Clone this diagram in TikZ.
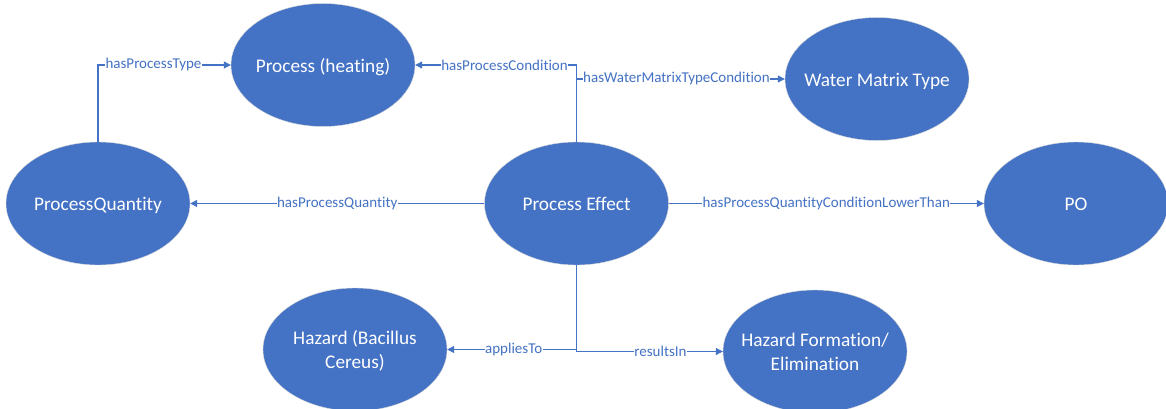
\documentclass[tikz,border=0pt]{standalone}
\usepackage{fontspec}
\setmainfont{Carlito}[Ligatures=NoCommon]
\usetikzlibrary{shapes.geometric,arrows.meta}
\definecolor{obl}{HTML}{4472C4}
\newcommand\entxt[1]{\makebox[0pt]{\raisebox{-2.5pt}[\height][\depth]{\begin{tabular}{@{}c@{}}#1\end{tabular}}}}
\tikzset{
  ent/.style={ellipse, fill=obl, draw=white!85!black, line width=0.4pt, minimum width=184pt, minimum height=123pt, inner sep=0pt,
    text=white, font=\fontsize{19.3}{23.5}\selectfont},
  rel/.style={draw=obl, line width=1.1pt, -{Triangle[length=7pt,width=7pt]}},
  lbl/.style={fill=white, text=obl, inner sep=0.4pt, font=\fontsize{15}{16}\selectfont}
}
\begin{document}
\begin{tikzpicture}[x=1pt,y=-1pt]
\useasboundingbox (0,0) rectangle (1166,409);
\node[ent] (heat) at (323,65) {\entxt{Process (heating)}};
\node[ent] (water) at (877,79) {\entxt{Water Matrix Type}};
\node[ent] (pq) at (98,203.5) {\entxt{ProcessQuantity}};
\node[ent] (pe) at (576.5,203.5) {\entxt{Process Effect}};
\node[ent] (po) at (1076,203.5) {\entxt{PO}};
\node[ent] (haz) at (355,349.5) {\entxt{Hazard (Bacillus\\Cereus)}};
\node[ent] (hf) at (815,351.5) {\entxt{Hazard Formation/\\Elimination}};
\coordinate (wj) at (pe.north |- water.west);
\draw[rel] (pq.north) |- node[lbl, pos=0.709] {hasProcessType} (heat.west);
\draw[rel] (pe.north) |- node[lbl, pos=0.723] {hasProcessCondition} (heat.east);
\draw[rel] (wj) -- node[lbl, pos=0.48] {hasWaterMatrixTypeCondition} (water.west);
\draw[rel] (pe.west) -- node[lbl, pos=0.5] {hasProcessQuantity} (pq.east);
\draw[rel] (pe.east) -- node[lbl, pos=0.5] {hasProcessQuantityConditionLowerThan} (po.west);
\draw[rel] (pe.south) |- node[lbl, pos=0.743] {appliesTo} (haz.east);
\draw[rel] (pe.south) |- node[lbl, pos=0.787] {resultsIn} (hf.west);
\end{tikzpicture}
\end{document}
